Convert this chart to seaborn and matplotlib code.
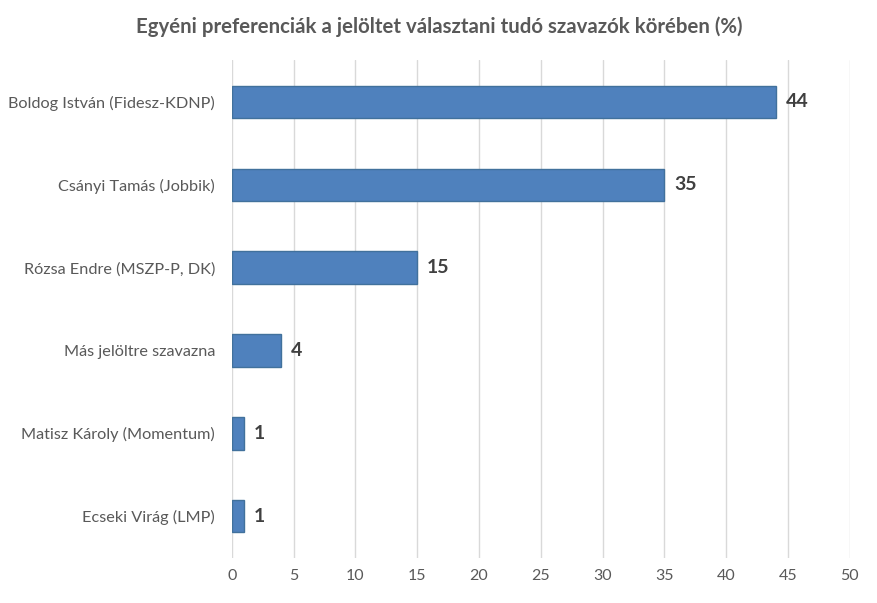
import matplotlib
matplotlib.use("Agg")
import matplotlib.pyplot as plt
import seaborn as sns
import pandas as pd

categories = ["Boldog István (Fidesz-KDNP)", "Csányi Tamás (Jobbik)", "Rózsa Endre (MSZP-P, DK)",
              "Más jelöltre szavazna", "Matisz Károly (Momentum)", "Ecseki Virág (LMP)"]
values = [44, 35, 15, 4, 1, 1]
xticks = [0, 5, 10, 15, 20, 25, 30, 35, 40, 45, 50]
title = "Egyéni preferenciák a jelöltet választani tudó szavazók körében (%)"

sns.set_theme(style="white")
plt.rcParams['font.family'] = ['Lato', 'DejaVu Sans']

df = pd.DataFrame({"cat": categories, "val": values})
fig = plt.figure(figsize=(8.78, 6.03), dpi=100)
ax = fig.add_axes([0.264, 0.075, 0.704, 0.825])
sns.barplot(data=df, x="val", y="cat", orient="h", color="#4F81BD", saturation=1,
            width=0.39, edgecolor="#41719C", linewidth=1, ax=ax, zorder=3)
ax.set_xlim(0, 50)
ax.set_ylim(5.5, -0.5)
ax.set_xticks(xticks)
ax.set_xticklabels([str(t) for t in xticks], fontsize=11.5, color="#595959")
ax.tick_params(axis='y', labelsize=11.7, labelcolor="#595959", length=0, pad=12)
ax.tick_params(axis='x', length=0, pad=8)
ax.set_xlabel("")
ax.set_ylabel("")
ax.grid(axis='x', color="#D9D9D9", linewidth=1, zorder=0)
for s in ax.spines.values():
    s.set_visible(False)
for i, v in enumerate(values):
    ax.text(v + 0.8, i, str(v), va="center", ha="left", fontsize=14, fontweight="bold", color="#404040")
fig.text(0.5, 0.955, title, ha="center", va="center", fontsize=14.7, fontweight="bold", color="#595959")
fig.savefig("out.png", dpi=100)
